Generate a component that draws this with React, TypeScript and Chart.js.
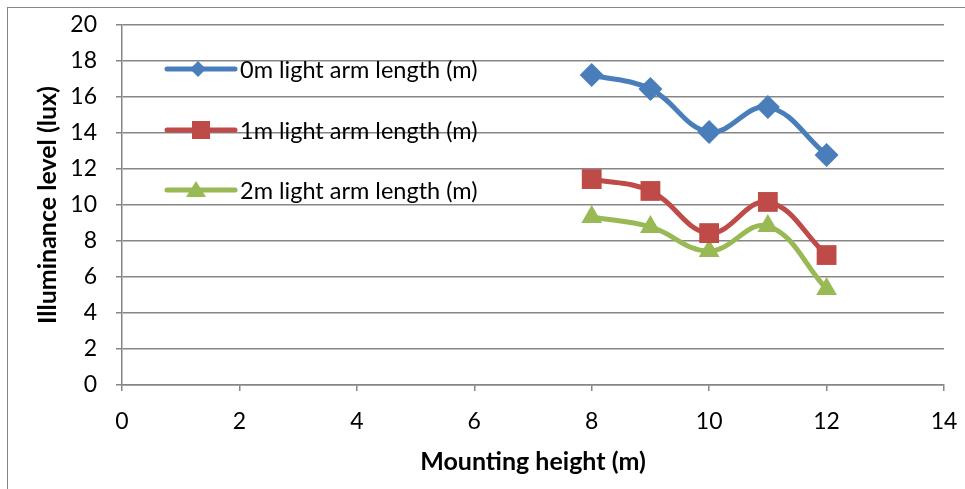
import React, { useEffect, useRef } from "react";
import { Chart, registerables } from "chart.js";

Chart.register(...registerables);

const heights = [8, 9, 10, 11, 12];
const arm0m = [17.22, 16.44, 14.06, 15.44, 12.78];
const arm1m = [11.44, 10.78, 8.44, 10.17, 7.22];
const arm2m = [9.33, 8.78, 7.44, 8.83, 5.33];
const seriesNames = ["0m light arm length (m)", "1m light arm length (m)", "2m light arm length (m)"];
const xTitle = "Mounting height (m)";
const yTitle = "Illuminance level (lux)";

const colors = ["#4a7ebb", "#be4b48", "#98b954"];
const styles = ["rectRot", "rect", "triangle"];
const FONT = "Lato, 'Liberation Sans', sans-serif";

const legendPlugin = {
  id: "innerLegend",
  afterDraw(chart: any) {
    const ctx = chart.ctx;
    const rows = [69, 130, 190];
    ctx.save();
    chart.data.datasets.forEach((ds: any, i: number) => {
      const y = rows[i];
      ctx.strokeStyle = ds.borderColor;
      ctx.lineWidth = 5;
      ctx.lineCap = "round";
      ctx.beginPath();
      ctx.moveTo(167, y);
      ctx.lineTo(235, y);
      ctx.stroke();
      ctx.fillStyle = ds.backgroundColor;
      ctx.beginPath();
      if (i === 0) {
        ctx.moveTo(190, y);
        ctx.lineTo(198, y - 8);
        ctx.lineTo(206, y);
        ctx.lineTo(198, y + 8);
        ctx.closePath();
      } else if (i === 1) {
        ctx.rect(192, y - 9, 18, 18);
      } else {
        ctx.moveTo(186, y + 7);
        ctx.lineTo(196, y - 9);
        ctx.lineTo(206, y + 7);
        ctx.closePath();
      }
      ctx.fill();
      ctx.fillStyle = "#000";
      ctx.font = `23.5px ${FONT}`;
      ctx.textBaseline = "middle";
      ctx.textAlign = "left";
      ctx.fillText(ds.label, 240, y + 1);
    });
    ctx.restore();
  },
};

export default function App() {
  const ref = useRef<HTMLCanvasElement>(null);
  useEffect(() => {
    const mk = (label: string, data: number[], i: number) => ({
      label,
      data: heights.map((x, k) => ({ x, y: data[k] })),
      borderColor: colors[i],
      backgroundColor: colors[i],
      borderWidth: 5,
      pointStyle: styles[i],
      pointRadius: i === 0 ? 12 : i === 1 ? 14 : 12,
      pointBorderWidth: 0,
      tension: 0.4,
    });
    const chart = new Chart(ref.current!, {
      type: "line",
      data: {
        datasets: [mk(seriesNames[0], arm0m, 0), mk(seriesNames[1], arm1m, 1), mk(seriesNames[2], arm2m, 2)],
      },
      options: {
        animation: false,
        responsive: false,
        layout: { padding: { left: 0, right: 21, top: 25, bottom: 0 } },
        plugins: { legend: { display: false }, tooltip: { enabled: false } },
        scales: {
          x: {
            type: "linear",
            min: 0,
            max: 14,
            ticks: { stepSize: 2, color: "#000", font: { family: FONT, size: 23 }, padding: 17 },
            grid: { drawOnChartArea: false, color: "#868686", lineWidth: 1.5, tickLength: 6 },
            border: { color: "#868686", width: 1.5 },
            title: { display: true, text: xTitle, color: "#000", font: { family: FONT, size: 25, weight: "bold" }, padding: { top: 4, bottom: 12 } },
            afterFit: (s: any) => { s.height = 104; s.paddingLeft = 0; s.paddingRight = 0; },
          },
          y: {
            min: 0,
            max: 20,
            ticks: { stepSize: 2, color: "#000", font: { family: FONT, size: 23 }, padding: 19 },
            grid: { color: "#868686", lineWidth: 1.5, tickLength: 6 },
            border: { color: "#868686", width: 1.5 },
            title: { display: true, text: yTitle, color: "#000", font: { family: FONT, size: 25, weight: "bold" }, padding: { top: 33, bottom: 0 } },
            afterFit: (s: any) => { s.width = 122; s.paddingTop = 0; s.paddingBottom = 0; },
          },
        },
      },
      plugins: [legendPlugin],
    } as any);
    return () => chart.destroy();
  }, []);
  return (
    <div style={{ position: "fixed", left: 0, top: 0, width: 965, height: 489, background: "#fff" }}>
      <canvas ref={ref} width={965} height={489} style={{ position: "absolute", left: 0, top: 0 }} />
      <div style={{ position: "absolute", left: 7, top: 7, width: 970, height: 490, borderLeft: "1.5px solid #868686", borderTop: "1.5px solid #868686", pointerEvents: "none" }} />
    </div>
  );
}
